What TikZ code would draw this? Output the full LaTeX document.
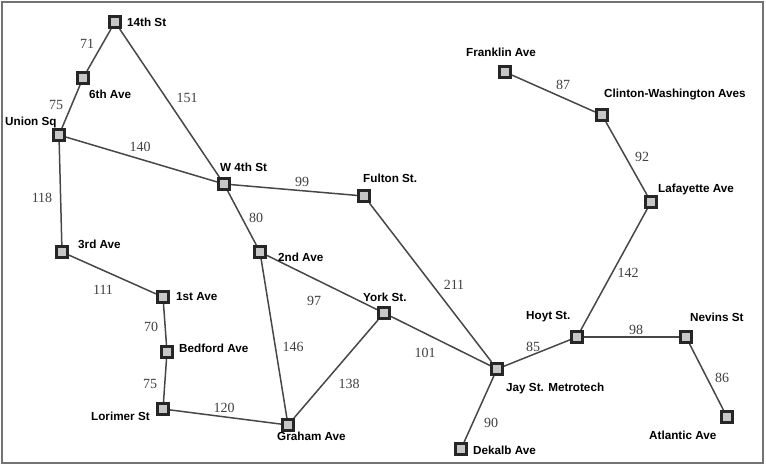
\documentclass[tikz,border=0pt]{standalone}
\usepackage{fontspec}
\setmainfont{Liberation Serif}
\newfontfamily\stationfont{Liberation Sans}
\usetikzlibrary{backgrounds}
\begin{document}
\begin{tikzpicture}[x=1pt,y=-1pt,
  station/.style={draw=black!85,fill=black!22,line width=3pt,minimum size=11pt,inner sep=0pt,rectangle},
  stationname/.style={font=\stationfont\bfseries\fontsize{11.7}{13}\selectfont,inner sep=0pt,text=black},
  weight/.style={font=\fontsize{14}{16}\selectfont,inner sep=0pt,text=black!75},
  track/.style={draw=black!72,line width=1.5pt}]
\useasboundingbox (0,0) rectangle (766,467);
\draw[black!55,line width=1.5pt] (2,2) rectangle (763,463);

% stations
\node[station] (s14) at (115,22) {};
\node[station] (s6) at (83,78) {};
\node[station] (us) at (59,135) {};
\node[station] (w4) at (224,184) {};
\node[station] (ful) at (364,196) {};
\node[station] (s3) at (62,252) {};
\node[station] (s2) at (260,252) {};
\node[station] (s1) at (163,297) {};
\node[station] (bed) at (167,352) {};
\node[station] (lor) at (163,409) {};
\node[station] (gra) at (288,425) {};
\node[station] (york) at (384,313) {};
\node[station] (jay) at (497,369) {};
\node[station] (dek) at (461,449) {};
\node[station] (hoyt) at (577,337) {};
\node[station] (nev) at (686,337) {};
\node[station] (atl) at (727,417) {};
\node[station] (fra) at (505,72) {};
\node[station] (cli) at (602,115) {};
\node[station] (laf) at (651,202) {};

% station names
\node[stationname,anchor=west] (n14) at (127,22) {14th St};
\node[stationname,anchor=west] (n6) at (89,94) {6th Ave};
\node[stationname,anchor=west] (nus) at (5,122) {Union Sq};
\node[stationname,anchor=west] (nw4) at (220,167) {W 4th St};
\node[stationname,anchor=west] (nful) at (363,178) {Fulton St.};
\node[stationname,anchor=west] (n3) at (78,244) {3rd Ave};
\node[stationname,anchor=west] (n2) at (278,257) {2nd Ave};
\node[stationname,anchor=west] (n1) at (176,297) {1st Ave};
\node[stationname,anchor=west] (nbed) at (179,348) {Bedford Ave};
\node[stationname,anchor=west] (nlor) at (91,416) {Lorimer St};
\node[stationname,anchor=west] (ngra) at (277,436) {Graham Ave};
\node[stationname,anchor=west] (nyork) at (363,297) {York St.};
\node[stationname,anchor=west] (njay) at (506,388) {Jay St. Metrotech};
\node[stationname,anchor=west] (ndek) at (473,450) {Dekalb Ave};
\node[stationname,anchor=west] (nhoyt) at (526,317) {Hoyt St.};
\node[stationname,anchor=west] (nnev) at (690,317) {Nevins St};
\node[stationname,anchor=west] (natl) at (649,435) {Atlantic Ave};
\node[stationname,anchor=west] (nfra) at (466,52) {Franklin Ave};
\node[stationname,anchor=west] (ncli) at (604,94) {Clinton-Washington Aves};
\node[stationname,anchor=west] (nlaf) at (658,189) {Lafayette Ave};

% tracks
\begin{scope}[on background layer]
\draw[track] (s14) -- (s6);
\draw[track] (s6) -- (us);
\draw[track] (s14) -- (w4);
\draw[track] (us) -- (w4);
\draw[track] (us) -- (s3);
\draw[track] (w4) -- (ful);
\draw[track] (w4) -- (s2);
\draw[track] (s3) -- (s1);
\draw[track] (s1) -- (bed);
\draw[track] (bed) -- (lor);
\draw[track] (lor) -- (gra);
\draw[track] (s2) -- (gra);
\draw[track] (s2) -- (york);
\draw[track] (york) -- (gra);
\draw[track] (york) -- (jay);
\draw[track] (ful) -- (jay);
\draw[track] (jay) -- (dek);
\draw[track] (jay) -- (hoyt);
\draw[track] (hoyt) -- (nev);
\draw[track] (nev) -- (atl);
\draw[track] (hoyt) -- (laf);
\draw[track] (laf) -- (cli);
\draw[track] (cli) -- (fra);
\end{scope}

% travel times
\node[weight] (w71) at (87,44) {71};
\node[weight] (w75a) at (56,105) {75};
\node[weight] (w151) at (187,98) {151};
\node[weight] (w140) at (140,147) {140};
\node[weight] (w118) at (42,198) {118};
\node[weight] (w99) at (302,182) {99};
\node[weight] (w80) at (256,218) {80};
\node[weight] (w97) at (314,301) {97};
\node[weight] (w211) at (454,285) {211};
\node[weight] (w101) at (425,353) {101};
\node[weight] (w85) at (533,347) {85};
\node[weight] (w98) at (636,330) {98};
\node[weight] (w86) at (722,378) {86};
\node[weight] (w90) at (491,423) {90};
\node[weight] (w142) at (628,273) {142};
\node[weight] (w87) at (563,85) {87};
\node[weight] (w92) at (642,157) {92};
\node[weight] (w111) at (103,290) {111};
\node[weight] (w70) at (151,327) {70};
\node[weight] (w75b) at (150,384) {75};
\node[weight] (w146) at (293,347) {146};
\node[weight] (w120) at (224,408) {120};
\node[weight] (w138) at (349,384) {138};
\end{tikzpicture}
\end{document}
